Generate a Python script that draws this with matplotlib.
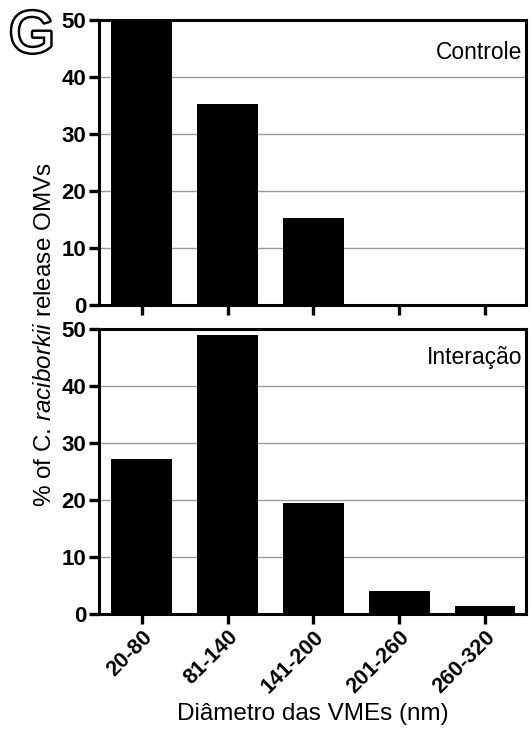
import numpy as np
import matplotlib.pyplot as plt
from matplotlib import patheffects as pe

plt.rcParams['font.family'] = ['Liberation Sans', 'DejaVu Sans']
plt.rcParams['mathtext.fontset'] = 'custom'
plt.rcParams['mathtext.rm'] = 'Liberation Sans'
plt.rcParams['mathtext.it'] = 'Liberation Sans:italic'

categories = ['20-80', '81-140', '141-200', '201-260', '260-320']
controle = [50.0, 35.3, 15.3, 0.0, 0.0]
interacao = [27.2, 49.0, 19.5, 4.0, 1.4]
yticks = [0, 10, 20, 30, 40, 50]

fig = plt.figure(figsize=(5.32, 7.29), dpi=100)
ax1 = fig.add_axes([0.186, 0.5816, 0.803, 0.391])
ax2 = fig.add_axes([0.186, 0.1578, 0.803, 0.391])

x = np.arange(len(categories))
for ax, vals, name, ty in [(ax1, controle, 'Controle', 0.885),
                           (ax2, interacao, 'Interação', 0.9)]:
    ax.bar(x, vals, width=0.71, color='black', zorder=3)
    ax.set_xlim(-0.5, 4.48)
    ax.set_ylim(0, 50)
    ax.set_yticks(yticks)
    ax.yaxis.grid(True, color='#999999', linewidth=1.0, zorder=0)
    for s in ax.spines.values():
        s.set_linewidth(2.2)
        s.set_zorder(4)
    ax.tick_params(axis='both', direction='out', length=7, width=2.4,
                   labelsize=16, pad=2)
    for lab in ax.get_yticklabels():
        lab.set_fontweight('bold')
    ax.text(0.99, ty, name, transform=ax.transAxes, ha='right', va='center',
            fontsize=16.5, zorder=5)
    ax.set_xticks(x)

ax1.set_xticklabels([])
ax2.set_xticklabels(categories, rotation=45, ha='right',
                    rotation_mode='anchor', fontweight='bold', fontsize=15.5)
ax2.set_xlabel('Diâmetro das VMEs (nm)', fontsize=17.5, labelpad=4)

fig.text(0.085, 1 - 335 / 729, r'% of C. $\mathit{raciborkii}$ release OMVs',
         rotation=90, ha='center', va='center', fontsize=17.5)

fig.text(0.06, 1 - 37 / 729, 'G', ha='center', va='center', fontsize=42,
         color='white',
         path_effects=[pe.withStroke(linewidth=3.5, foreground='black')])

fig.savefig('out.png', dpi=100)
